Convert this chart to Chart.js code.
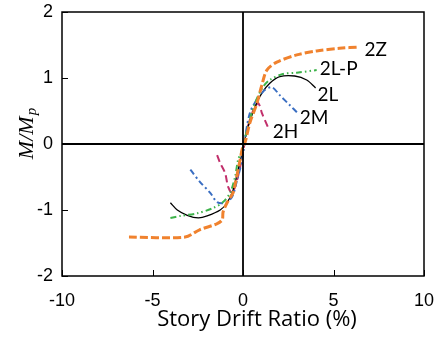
<!DOCTYPE html>
<html>
<head>
<meta charset="utf-8">
<script src="https://cdn.jsdelivr.net/npm/chart.js@4.4.1/dist/chart.umd.min.js"></script>
<style>
  html, body { margin: 0; padding: 0; background: #fff; }
  #wrap { width: 438px; height: 337px; position: relative; }
</style>
</head>
<body>
<div id="wrap"><canvas id="c" width="438" height="337"></canvas></div>
<script>
// Story drift ratio (%) vs. normalized moment M/Mp for each specimen
const seriesNames = ['2Z', '2L-P', '2L', '2M', '2H'];

const drift2Z = [-6.3, -3.2, -2.4, -1.45, -1.15, -1.1, -0.88, -0.55, -0.44, -0.16, 0, 0.11, 0.38, 0.77, 1.04, 1.32, 1.87, 2.97, 4.07, 5.33, 6.43];
const moment2Z = [-1.41, -1.41, -1.30, -1.21, -1.15, -1.03, -0.89, -0.74, -0.62, -0.24, -0.03, 0.02, 0.32, 0.62, 0.89, 1.12, 1.24, 1.35, 1.41, 1.45, 1.47];

const drift2LP = [-4.01, -3.46, -2.53, -1.65, -1.10, -0.71, -0.44, -0.27, -0.05, 0.22, 0.66, 1.10, 1.48, 2.20, 2.97, 4.07];
const moment2LP = [-1.12, -1.09, -1.05, -0.97, -0.88, -0.74, -0.50, -0.24, -0.09, 0.21, 0.62, 0.86, 0.97, 1.06, 1.08, 1.12];

const drift2L = [-4.01, -3.63, -3.08, -2.47, -1.98, -1.26, -0.88, -0.55, -0.27, -0.05, 0.22, 0.66, 1.04, 1.48, 2.03, 2.86, 3.52, 4.01];
const moment2L = [-0.89, -1.00, -1.08, -1.12, -1.09, -1.00, -0.89, -0.70, -0.39, -0.14, 0.21, 0.56, 0.77, 0.92, 1.02, 1.03, 0.97, 0.85];

const drift2M = [-2.91, -2.36, -1.81, -1.43, -0.99, -0.60, -0.33, -0.05, 0.38, 1.10, 1.59, 2.03, 2.58, 3.02];
const moment2M = [-0.39, -0.58, -0.74, -0.88, -0.89, -0.80, -0.55, -0.24, 0.47, 0.79, 0.86, 0.74, 0.59, 0.47];

const drift2H = [-1.43, -1.26, -0.99, -0.82, -0.60, -0.33, -0.05, 0.22, 0.55, 0.82, 0.95, 1.04, 1.37];
const moment2H = [-0.17, -0.29, -0.44, -0.65, -0.74, -0.55, -0.20, 0.21, 0.50, 0.62, 0.56, 0.47, 0.26];

const xTicks = [-10, -5, 0, 5, 10];
const yTicks = [-2, -1, 0, 1, 2];
const xTitle = 'Story Drift Ratio (%)';

const toPoints = (xs, ys) => xs.map((x, i) => ({ x: x, y: ys[i] }));

const styles = {
  '2Z':   { color: '#F0822E', width: 3,   dash: [8, 3] },
  '2L-P': { color: '#3DB34A', width: 2,   dash: [6, 3, 1.5, 3, 1.5, 3] },
  '2L':   { color: '#000000', width: 1.3, dash: [] },
  '2M':   { color: '#3A6EC2', width: 2,   dash: [6, 3, 2, 3] },
  '2H':   { color: '#C2306C', width: 2,   dash: [7, 4] }
};
// label placement relative to the last point of each curve
const labelOffsets = {
  '2Z':   [5, 3],
  '2L-P': [3, -1],
  '2L':   [2, 7],
  '2M':   [2, 5],
  '2H':   [5, 5]
};

const seriesData = {
  '2Z': toPoints(drift2Z, moment2Z),
  '2L-P': toPoints(drift2LP, moment2LP),
  '2L': toPoints(drift2L, moment2L),
  '2M': toPoints(drift2M, moment2M),
  '2H': toPoints(drift2H, moment2H)
};

// draw order, last drawn ends up on top
const drawOrder = ['2Z', '2L-P', '2M', '2L', '2H'];

const datasets = drawOrder.map(name => ({
  label: name,
  data: seriesData[name],
  showLine: true,
  borderColor: styles[name].color,
  borderWidth: styles[name].width,
  borderDash: styles[name].dash,
  pointRadius: 0,
  tension: 0.3,
  fill: false
}));

const PLOT = { left: 62, right: 424, top: 12, bottom: 276 };

const framePlugin = {
  id: 'frame',
  afterDatasetsDraw(chart) {
    const { ctx, chartArea: a, scales } = chart;
    ctx.save();
    ctx.strokeStyle = '#000';
    ctx.lineWidth = 1.5;
    ctx.setLineDash([]);
    ctx.strokeRect(a.left, a.top, a.right - a.left, a.bottom - a.top);
    // inward tick marks on the left and bottom axes
    ctx.lineWidth = 1;
    xTicks.forEach(v => {
      const px = Math.round(scales.x.getPixelForValue(v)) + 0.5;
      ctx.beginPath(); ctx.moveTo(px, a.bottom); ctx.lineTo(px, a.bottom - 6); ctx.stroke();
    });
    yTicks.forEach(v => {
      const py = Math.round(scales.y.getPixelForValue(v)) + 0.5;
      ctx.beginPath(); ctx.moveTo(a.left, py); ctx.lineTo(a.left + 6, py); ctx.stroke();
    });
    // zero axes
    ctx.lineWidth = 1.8;
    const x0 = scales.x.getPixelForValue(0), y0 = scales.y.getPixelForValue(0);
    ctx.beginPath(); ctx.moveTo(x0, a.top); ctx.lineTo(x0, a.bottom); ctx.stroke();
    ctx.beginPath(); ctx.moveTo(a.left, y0); ctx.lineTo(a.right, y0); ctx.stroke();

    // curve labels
    ctx.fillStyle = '#000';
    ctx.font = '19px Lato, "Open Sans", sans-serif';
    ctx.textAlign = 'left';
    ctx.textBaseline = 'middle';
    seriesNames.forEach(name => {
      const pts = seriesData[name];
      const last = pts[pts.length - 1];
      const off = labelOffsets[name];
      ctx.fillText(name, scales.x.getPixelForValue(last.x) + off[0], scales.y.getPixelForValue(last.y) + off[1]);
    });

    // x-axis title, set slightly right of the plot centre
    ctx.font = '22px "Open Sans", Lato, sans-serif';
    ctx.textAlign = 'center';
    ctx.textBaseline = 'middle';
    ctx.fillText(xTitle, (a.left + a.right) / 2 + 14, 320);

    // y-axis title M/Mp with subscript
    ctx.save();
    ctx.translate(27, (a.top + a.bottom) / 2 - 10);
    ctx.rotate(-Math.PI / 2);
    ctx.textAlign = 'left';
    ctx.textBaseline = 'middle';
    ctx.font = 'italic 22px "Liberation Serif", "DejaVu Serif", serif';
    const main = 'M/M';
    const w = ctx.measureText(main).width;
    ctx.font = 'italic 15px "Liberation Serif", "DejaVu Serif", serif';
    const ws = ctx.measureText('p').width;
    const start = -(w + ws) / 2;
    ctx.font = 'italic 22px "Liberation Serif", "DejaVu Serif", serif';
    ctx.fillText(main, start, 0);
    ctx.font = 'italic 15px "Liberation Serif", "DejaVu Serif", serif';
    ctx.fillText('p', start + w + 1, 5);
    ctx.restore();
    ctx.restore();
  }
};

new Chart(document.getElementById('c'), {
  type: 'scatter',
  data: { datasets },
  options: {
    responsive: false,
    animation: false,
    events: [],
    layout: { padding: { left: 0, right: 438 - PLOT.right, top: PLOT.top, bottom: 0 } },
    plugins: { legend: { display: false }, tooltip: { enabled: false } },
    scales: {
      x: {
        type: 'linear', min: -10, max: 10,
        afterBuildTicks(s) { s.ticks = xTicks.map(v => ({ value: v })); },
        afterFit(s) { s.height = 337 - PLOT.bottom; s.paddingLeft = 0; s.paddingRight = 0; },
        grid: { display: false, drawTicks: false },
        border: { display: false },
        ticks: { color: '#000', font: { family: '"Liberation Sans", Arial, sans-serif', size: 18 }, padding: 14, maxRotation: 0 },
        title: { display: false }
      },
      y: {
        type: 'linear', min: -2, max: 2,
        afterBuildTicks(s) { s.ticks = yTicks.map(v => ({ value: v })); },
        afterFit(s) { s.width = PLOT.left; s.paddingTop = 0; s.paddingBottom = 0; },
        grid: { display: false, drawTicks: false },
        border: { display: false },
        ticks: { color: '#000', font: { family: '"Liberation Sans", Arial, sans-serif', size: 18 }, padding: 9 }
      }
    }
  },
  plugins: [framePlugin]
});
</script>
</body>
</html>
